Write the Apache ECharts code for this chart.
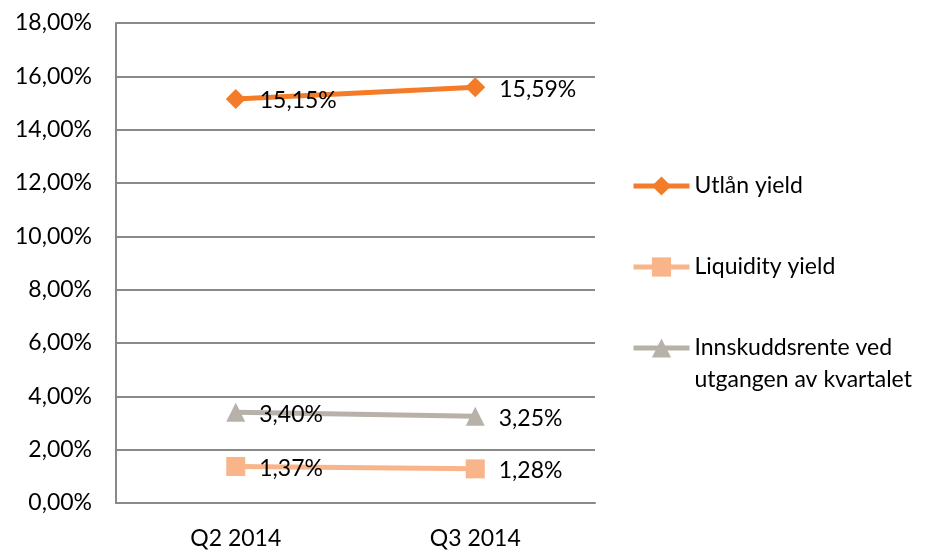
<!DOCTYPE html>
<html>
<head>
<meta charset="utf-8">
<script src="https://cdn.jsdelivr.net/npm/echarts@6/dist/echarts.min.js"></script>
<style>
  html, body { margin: 0; padding: 0; background: #fff; }
  #chart { width: 933px; height: 550px; }
</style>
</head>
<body>
<div id="chart"></div>
<script>
var categories = ['Q2 2014', 'Q3 2014'];
var utlanYield = [15.15, 15.59];
var liquidityYield = [1.37, 1.28];
var innskuddsrente = [3.40, 3.25];
var seriesNames = ['Utlån yield', 'Liquidity yield', 'Innskuddsrente ved\nutgangen av kvartalet'];

function pct(v) {
    return v.toFixed(2).replace('.', ',') + '%';
}

var chart = echarts.init(document.getElementById('chart'));
var font = 'Lato';

var labelStyle = {
    show: true,
    position: 'right',
    distance: 14,
    offset: [0, 2],
    fontFamily: font,
    fontSize: 23,
    color: '#000',
    formatter: function (p) { return pct(p.value); }
};

function legendBox(name, top) {
    return {
        data: [name],
        orient: 'vertical',
        left: 631,
        top: top,
        padding: 0,
        itemWidth: 56,
        itemHeight: 24,
        itemGap: 0,
        lineStyle: { width: 5 },
        // leading blank line keeps the icon level with the first text line
        formatter: function (n) { return n.indexOf('\n') >= 0 ? '\n' + n : n; },
        textStyle: { fontFamily: font, fontSize: 23, color: '#000', lineHeight: 32 }
    };
}

var option = {
    animation: false,
    grid: { left: 116, right: 338, top: 23, bottom: 46 },
    legend: [
        legendBox(seriesNames[0], 170),
        legendBox(seriesNames[1], 251),
        legendBox(seriesNames[2], 300)
    ],
    xAxis: {
        type: 'category',
        data: categories,
        boundaryGap: true,
        axisLine: { lineStyle: { color: '#898989', width: 2 } },
        axisTick: { show: false },
        axisLabel: { fontFamily: font, fontSize: 23, color: '#000', margin: 24 }
    },
    yAxis: {
        type: 'value',
        min: 0,
        max: 18,
        interval: 2,
        axisLine: { show: true, lineStyle: { color: '#898989', width: 2 } },
        axisTick: { show: false },
        splitLine: { lineStyle: { color: '#898989', width: 2 } },
        axisLabel: {
            fontFamily: font, fontSize: 23, color: '#000', margin: 24,
            formatter: function (v) { return pct(v); }
        }
    },
    series: [
        {
            name: seriesNames[0],
            type: 'line',
            data: utlanYield,
            symbol: 'diamond',
            symbolSize: 20,
            lineStyle: { color: '#F47B28', width: 5 },
            itemStyle: { color: '#F47B28' },
            label: labelStyle
        },
        {
            name: seriesNames[1],
            type: 'line',
            data: liquidityYield,
            symbol: 'rect',
            symbolSize: 19,
            lineStyle: { color: '#F9B589', width: 5 },
            itemStyle: { color: '#F9B589' },
            label: labelStyle
        },
        {
            name: seriesNames[2],
            type: 'line',
            data: innskuddsrente,
            symbol: 'triangle',
            symbolSize: 19,
            lineStyle: { color: '#B7B1A9', width: 5 },
            itemStyle: { color: '#B7B1A9' },
            label: labelStyle
        }
    ]
};

chart.setOption(option);
</script>
</body>
</html>
